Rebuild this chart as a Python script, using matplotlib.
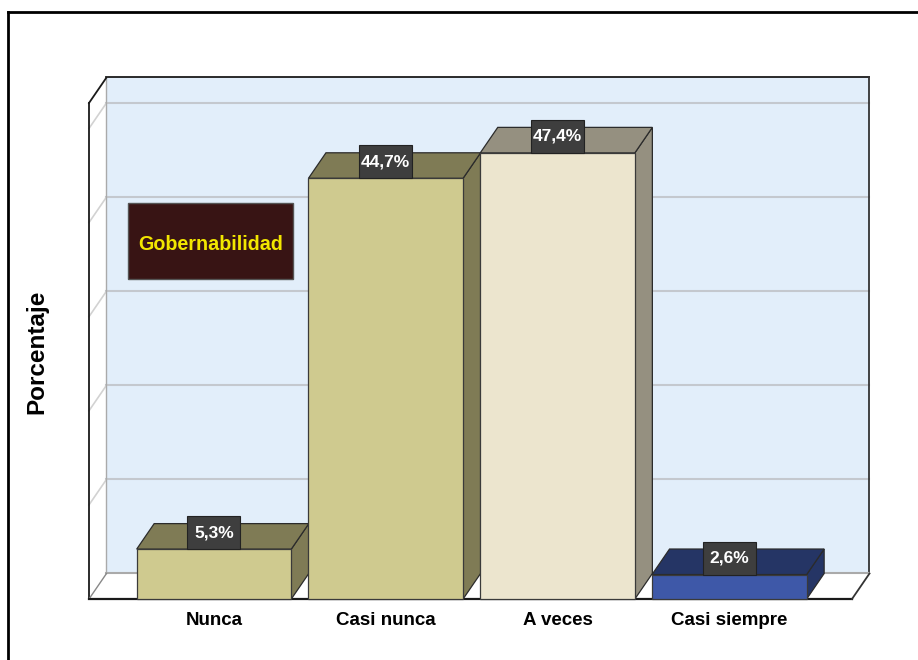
import matplotlib
matplotlib.use("Agg")
import matplotlib.pyplot as plt
from matplotlib.patches import Polygon, Rectangle
from matplotlib.lines import Line2D

categorias = ['Nunca', 'Casi nunca', 'A veces', 'Casi siempre']
porcentajes = [5.3, 44.7, 47.4, 2.6]
etiquetas = ['5,3%', '44,7%', '47,4%', '2,6%']
frente = ['#CFCA8F', '#CFCA8F', '#ECE5CE', '#3E58A8']
sombra = ['#7F7B55', '#7F7B55', '#959080', '#253565']
lineas_grid = [10, 20, 30, 40, 50]

NARROW = ['Liberation Sans Narrow', 'Liberation Sans', 'DejaVu Sans']
SANS = ['Liberation Sans', 'DejaVu Sans']

fig = plt.figure(figsize=(9.18, 6.6), dpi=100)
W, H = 918, 660
# plano frontal del grafico (pixeles)
ax = fig.add_axes([89 / W, (H - 599) / H, (852 - 89) / W, (599 - 103) / H])
x0, x1 = -0.7276, 3.714
ymax = 52.7
ax.set_xlim(x0, x1)
ax.set_ylim(0, ymax)
ax.axis('off')

# profundidad 3D en unidades de datos
DX = 17.5 / 171.8
DY = 25.5 / 9.41
ancho = 0.9

# pared del fondo
ax.add_patch(Rectangle((x0 + DX, DY), x1 - x0, ymax, facecolor='#E2EEFA',
                       edgecolor='none', clip_on=False, zorder=1))
# pared izquierda
ax.add_patch(Polygon([(x0, 0), (x0 + DX, DY), (x0 + DX, ymax + DY), (x0, ymax)],
                     closed=True, facecolor='white', edgecolor='none', clip_on=False, zorder=1))
# piso
ax.add_patch(Polygon([(x0, 0), (x1, 0), (x1 + DX, DY), (x0 + DX, DY)],
                     closed=True, facecolor='white', edgecolor='none', clip_on=False, zorder=1))

for g in lineas_grid:
    ax.add_line(Line2D([x0 + DX, x1 + DX], [g + DY, g + DY], color='#C4C8CE', lw=1.5,
                       clip_on=False, zorder=2))
    ax.add_line(Line2D([x0, x0 + DX], [g, g + DY], color='#D2D2D2', lw=1.2,
                       clip_on=False, zorder=2))

def linea(xs, ys, c='#1a1a1a', lw=1.3):
    ax.add_line(Line2D(xs, ys, color=c, lw=lw, clip_on=False, zorder=3))

# bordes de las paredes
linea([x0 + DX, x1 + DX], [ymax + DY, ymax + DY])
linea([x1 + DX, x1 + DX], [DY, ymax + DY], c='#333333')
linea([x0 + DX, x0 + DX], [DY, ymax + DY], c='#AAAAAA', lw=1)
linea([x0 + DX, x1 + DX], [DY, DY], c='#AAAAAA', lw=1.5)
linea([x0, x0], [0, ymax])
linea([x0, x0 + DX], [ymax, ymax + DY])
linea([x0, x0 + DX], [0, DY], c='#888888', lw=1)
linea([x0, x1], [0, 0], c='#1a1a1a', lw=1.6)
linea([x1, x1 + DX], [0, DY], c='#333333')

# barras 3D
for i, v in enumerate(porcentajes):
    l, r = i - ancho / 2, i + ancho / 2
    ax.add_patch(Polygon([(r, 0), (r + DX, DY), (r + DX, v + DY), (r, v)], closed=True,
                         facecolor=sombra[i], edgecolor='#2B2B2B', lw=0.9, clip_on=False, zorder=4))
    ax.add_patch(Polygon([(l, v), (r, v), (r + DX, v + DY), (l + DX, v + DY)], closed=True,
                         facecolor=sombra[i], edgecolor='#2B2B2B', lw=0.9, clip_on=False, zorder=4))
    ax.add_patch(Rectangle((l, 0), ancho, v, facecolor=frente[i], edgecolor='#3A3A3A',
                           lw=0.9, clip_on=False, zorder=5))
    # etiqueta de valor
    bw, bh = 53 / 171.8, 33 / 9.41
    ax.add_patch(Rectangle((i - bw / 2, v), bw, bh, facecolor='#3E3E3E', edgecolor='#222222',
                           lw=0.8, clip_on=False, zorder=6))
    ax.text(i, v + bh / 2, etiquetas[i], color='white', fontsize=12.5, fontweight='bold',
            family=NARROW, ha='center', va='center', zorder=7)
    ax.text(i, -2.25, categorias[i], color='black', fontsize=13.5, fontweight='bold',
            family=NARROW, ha='center', va='center', clip_on=False)

# recuadro del titulo
gx0, gx1 = (128 - 214) / 171.8, (293 - 214) / 171.8
gy0, gy1 = (599 - 279) / 9.41, (599 - 203) / 9.41
ax.add_patch(Rectangle((gx0, gy0), gx1 - gx0, gy1 - gy0, facecolor='#381414',
                       edgecolor='#555555', lw=1, zorder=6))
ax.text((gx0 + gx1) / 2, (gy0 + gy1) / 2 - 0.35, 'Gobernabilidad', color='#F2E600',
        fontsize=14.2, fontweight='bold', family=SANS, ha='center', va='center', zorder=7)

fig.text(37 / W, 1 - 352 / H, 'Porcentaje', rotation=90, fontsize=17.5, fontweight='bold',
         family=SANS, ha='center', va='center')

# marco exterior
fig.add_artist(Line2D([8 / W, 1], [1 - 12 / H, 1 - 12 / H], color='black', lw=2,
                      transform=fig.transFigure))
fig.add_artist(Line2D([8 / W, 8 / W], [0, 1 - 12 / H], color='black', lw=2,
                      transform=fig.transFigure))

fig.savefig('out.png', dpi=100, facecolor='white')
